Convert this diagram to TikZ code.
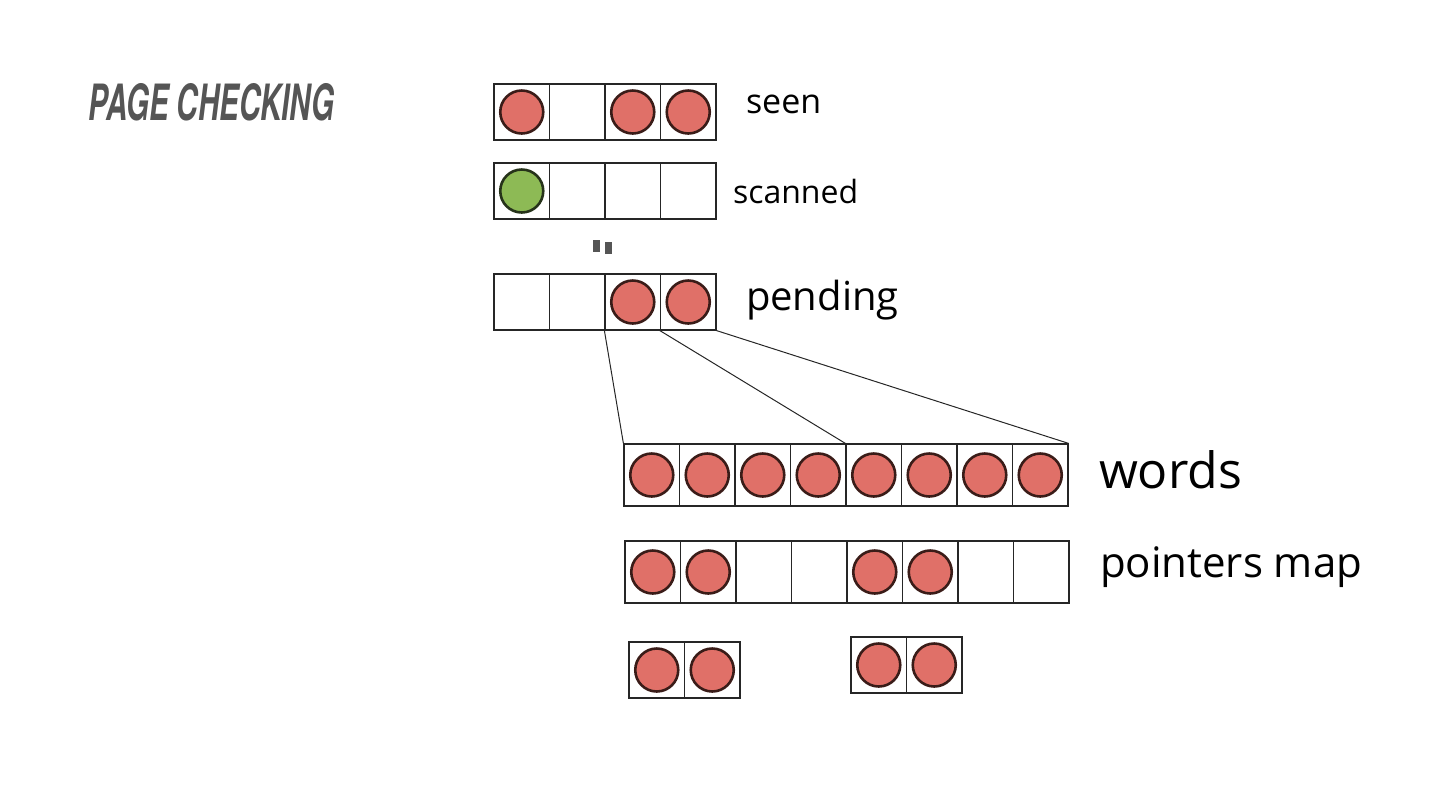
\documentclass[tikz,border=0pt]{standalone}
\usepackage{fontspec}
\usepackage{graphicx}
\setmainfont{Open Sans}
\newfontfamily\titlefont{TeX Gyre Heros}
\definecolor{DotRed}{HTML}{E07068}
\definecolor{DotEdge}{HTML}{3A1C18}
\definecolor{DotGreen}{HTML}{8DBA55}
\definecolor{GreenEdge}{HTML}{26331A}
\definecolor{TitleGray}{HTML}{555555}
\usetikzlibrary{positioning}

\begin{document}
\begin{tikzpicture}[
  x=0.5pt,y=-0.5pt,
  cell/.style={draw=black!85,line width=.6pt,minimum width=27.75pt,minimum height=28pt,inner sep=0pt},
  tall cell/.style={cell,minimum height=31pt},
  ball/.style={circle,line width=1.3pt,minimum size=21.5pt,inner sep=0pt},
  red ball/.style={ball,draw=DotEdge,fill=DotRed},
  green ball/.style={ball,draw=GreenEdge,fill=DotGreen},
  hand/.style={anchor=west,inner sep=0pt,font=\fontsize{#1}{#1}\selectfont},
  link/.style={draw=black!85,line width=.5pt}
]
\useasboundingbox (0,0) rectangle (1440,810);

% title
\node[anchor=west,inner sep=0pt,text=TitleGray] (title) at (88,102)
  {\scalebox{0.59}[1]{\titlefont\bfseries\itshape\fontsize{25}{25}\selectfont PAGE CHECKING}};

% small arrays
\foreach \i in {1,...,4} {
  \node[cell] (seen-\i) at ({521.75+55.5*(\i-1)},112) {};
  \node[cell] (scanned-\i) at ({521.75+55.5*(\i-1)},191) {};
  \node[cell] (pending-\i) at ({521.75+55.5*(\i-1)},302) {};
}
\foreach \i in {1,3,4} \node[red ball] at (seen-\i) {};
\node[green ball] at (scanned-1) {};
\foreach \i in {3,4} \node[red ball] at (pending-\i) {};

% gap marks
\fill[TitleGray] (593,240) rectangle (600,252);
\fill[TitleGray] (605,242) rectangle (612,254);

% big arrays
\foreach \i in {1,...,8} {
  \node[tall cell] (words-\i) at ({651.75+55.5*(\i-1)},475) {};
  \node[tall cell] (ptrs-\i) at ({652.75+55.5*(\i-1)},572) {};
  \node[red ball] at (words-\i) {};
}
\foreach \i in {1,2,5,6} \node[red ball] at (ptrs-\i) {};

% pieces
\foreach \i in {1,2} {
  \node[cell] (left-\i) at ({656.75+55.5*(\i-1)},670) {};
  \node[cell] (right-\i) at ({878.75+55.5*(\i-1)},665) {};
  \node[red ball] at (left-\i) {};
  \node[red ball] at (right-\i) {};
}

% labels
\node[hand=17] at ([xshift=14.5pt,yshift=4pt]seen-4.east) {seen};
\node[hand=16] at ([xshift=8pt]scanned-4.east) {scanned};
\node[hand=20] at ([xshift=14.5pt,yshift=1pt]pending-4.east) {pending};
\node[hand=25] at ([xshift=15pt,yshift=2.5pt]words-8.east) {words};
\node[hand=21] at ([xshift=15pt,yshift=2.5pt]ptrs-8.east) {pointers map};

% connectors
\draw[link] (pending-3.south west) -- (words-1.north west);
\draw[link] (pending-4.south west) -- (words-5.north west);
\draw[link] (pending-4.south east) -- (words-8.north east);
\end{tikzpicture}
\end{document}
